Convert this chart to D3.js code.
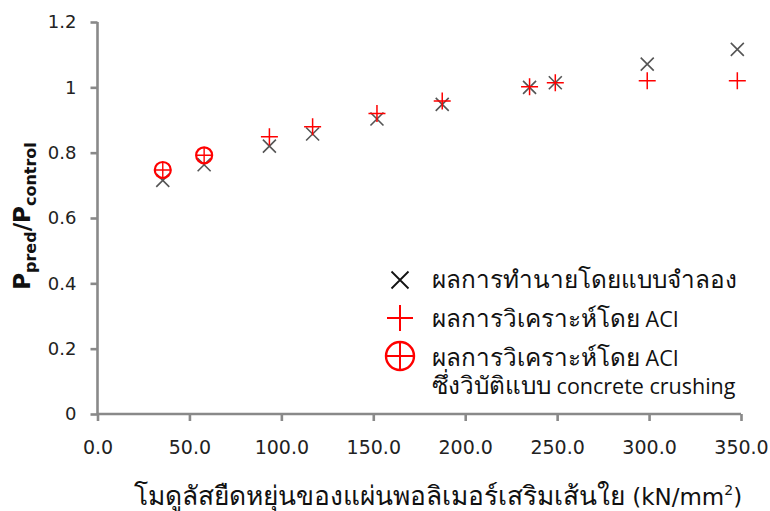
<!DOCTYPE html>
<html>
<head>
<meta charset="utf-8">
<script src="https://cdn.jsdelivr.net/npm/d3@7"></script>
<style>
  html, body { margin: 0; padding: 0; background: #fff; }
  svg { display: block; }
  text { font-family: Tahoma, "DejaVu Sans", "Noto Sans", sans-serif; }
</style>
</head>
<body>
<svg id="chart" width="770" height="511"></svg>
<script>
// Modulus of the FRP sheet (kN/mm^2)
const modulus = [35.5, 58, 93.5, 117, 152, 187.5, 235, 249, 299, 348];
// Predicted / control capacity from the simulation model
const modelRatio = [0.715, 0.763, 0.82, 0.857, 0.903, 0.948, 1.0, 1.014, 1.071, 1.116];
// Predicted / control capacity from the ACI analysis
const aciRatio = [0.747, 0.792, 0.849, 0.879, 0.92, 0.958, 1.002, 1.014, 1.02, 1.02];
// Which ACI results fail by concrete crushing
const crushing = [true, true, false, false, false, false, false, false, false, false];

const xTicks = [0, 50, 100, 150, 200, 250, 300, 350];
const yTicks = [0, 0.2, 0.4, 0.6, 0.8, 1.0, 1.2];

// Legend lines: Thai part and Latin part
const legendThai = ["ผลการทำนายโดยแบบจำลอง", "ผลการวิเคราะห์โดย", "ผลการวิเคราะห์โดย", "ซึ่งวิบัติแบบ"];
const legendLatin = ["", "ACI", "ACI", "concrete crushing"];

const svg = d3.select("#chart");
const x = d3.scaleLinear().domain([0, 350]).range([97.5, 741]);
const y = d3.scaleLinear().domain([0, 1.2]).range([414, 22]);
const axisColor = "#898989";

// Y axis
const yAxis = svg.append("g").attr("transform", `translate(${x(0)},0)`)
  .call(d3.axisLeft(y).tickValues(yTicks).tickSize(7).tickPadding(14)
    .tickFormat(d => String(+d.toFixed(1))));
// X axis
const xAxis = svg.append("g").attr("transform", `translate(0,${y(0)})`)
  .call(d3.axisBottom(x).tickValues(xTicks).tickSize(7).tickPadding(20)
    .tickFormat(d3.format(".1f")));

[yAxis, xAxis].forEach(g => {
  g.select(".domain").attr("stroke", axisColor).attr("stroke-width", 2.6);
  g.selectAll(".tick line").attr("stroke", axisColor).attr("stroke-width", 2.6);
  g.selectAll(".tick text").attr("fill", "#222")
    .attr("font-family", "Tahoma, 'DejaVu Sans', sans-serif");
});
yAxis.select(".domain").attr("d", `M0,${y(1.2)}V${y(0)}`);
xAxis.select(".domain").attr("d", `M${x(0)},0H${x(350)}`);
yAxis.selectAll(".tick text").attr("font-size", 18);
xAxis.selectAll(".tick text").attr("font-size", 19);

// Marker paths
function crossX(s) { return `M${-s},${-s}L${s},${s}M${-s},${s}L${s},${-s}`; }
function plus(s) { return `M${-s},0H${s}M0,${-s}V${s}`; }

const plot = svg.append("g");

// Simulation results: grey x
plot.selectAll(".mx").data(modulus.map((m, i) => ({ m, v: modelRatio[i] })))
  .enter().append("path")
  .attr("transform", d => `translate(${x(d.m)},${y(d.v)})`)
  .attr("d", crossX(6.5))
  .attr("stroke", "#555").attr("stroke-width", 1.6).attr("fill", "none");

// ACI results: red +
const aciData = modulus.map((m, i) => ({ m, v: aciRatio[i], c: crushing[i] }));
plot.selectAll(".ma").data(aciData.filter(d => !d.c))
  .enter().append("path")
  .attr("transform", d => `translate(${x(d.m)},${y(d.v)})`)
  .attr("d", plus(8.5))
  .attr("stroke", "#ff0000").attr("stroke-width", 1.5).attr("fill", "none");

// ACI results failing by concrete crushing: red circled +
const crush = plot.selectAll(".mc").data(aciData.filter(d => d.c))
  .enter().append("g")
  .attr("transform", d => `translate(${x(d.m)},${y(d.v)})`);
crush.append("circle").attr("r", 8).attr("fill", "none")
  .attr("stroke", "#ff0000").attr("stroke-width", 2.2);
crush.append("path").attr("d", plus(8)).attr("stroke", "#ff0000")
  .attr("stroke-width", 1.4).attr("fill", "none");

// Legend
const lg = svg.append("g");
lg.append("path").attr("transform", "translate(400,280)").attr("d", crossX(8.5))
  .attr("stroke", "#111").attr("stroke-width", 1.8).attr("fill", "none");
lg.append("path").attr("transform", "translate(400,318)").attr("d", plus(13))
  .attr("stroke", "#ff0000").attr("stroke-width", 2).attr("fill", "none");
const lc = lg.append("g").attr("transform", "translate(400,356)");
lc.append("circle").attr("r", 14).attr("fill", "none").attr("stroke", "#ff0000").attr("stroke-width", 2.4);
lc.append("path").attr("d", plus(14)).attr("stroke", "#ff0000").attr("stroke-width", 2).attr("fill", "none");

const legendY = [288, 327, 366, 394];
legendThai.forEach((t, i) => {
  const txt = lg.append("text").attr("x", 432).attr("y", legendY[i]).attr("fill", "#111");
  txt.append("tspan").attr("font-size", 24.3).text(t);
  if (legendLatin[i]) {
    txt.append("tspan").attr("font-size", 21.5)
      .attr("font-family", "'Open Sans', 'DejaVu Sans', sans-serif")
      .text(" " + legendLatin[i]);
  }
});

// Y axis title: P_pred / P_control
const yt = svg.append("text")
  .attr("transform", "translate(30,216) rotate(-90)")
  .attr("text-anchor", "middle").attr("font-weight", "bold")
  .attr("font-family", "Calibri, Carlito, 'Open Sans', sans-serif")
  .attr("fill", "#111").attr("font-size", 23);
yt.append("tspan").text("P");
yt.append("tspan").attr("font-size", 16).attr("dy", 6).text("pred");
yt.append("tspan").attr("dy", -6).text("/P");
yt.append("tspan").attr("font-size", 16).attr("dy", 6).text("control");

// X axis title
const xt = svg.append("text").attr("x", 438).attr("y", 505)
  .attr("text-anchor", "middle").attr("fill", "#111")
  .attr("font-family", "'Liberation Sans', Arial, sans-serif");
xt.append("tspan").attr("font-size", 26.3).text("โมดูลัสยืดหยุ่นของแผ่นพอลิเมอร์เสริมเส้นใย");
xt.append("tspan").attr("font-size", 23).text(" (kN/mm");
xt.append("tspan").attr("font-size", 14).attr("dy", -10).text("2");
xt.append("tspan").attr("font-size", 23).attr("dy", 10).text(")");
</script>
</body>
</html>
